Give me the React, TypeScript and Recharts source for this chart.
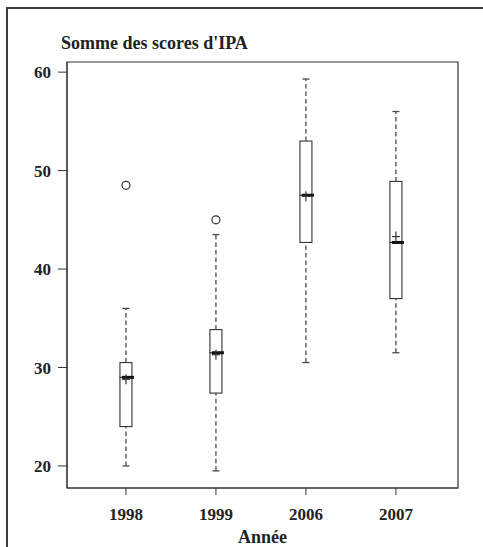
import { Bar, ComposedChart, ReferenceArea, Scatter, XAxis, YAxis } from "recharts";

const years = ["1998", "1999", "2006", "2007"];
const whiskerLow = [20, 19.5, 30.5, 31.5];
const q1 = [24, 27.4, 42.7, 37.0];
const medians = [29, 31.5, 47.5, 42.7];
const q3 = [30.5, 33.85, 53.0, 48.9];
const whiskerHigh = [36, 43.5, 59.3, 56.0];
const means = [28.8, 31.3, 47.4, 43.3];
const outlierPos = [1, 2];
const outlierValues = [48.5, 45.0];
const yTicks = [20, 30, 40, 50, 60];

const boxData = years.map((year, i) => ({
  pos: i + 1,
  year,
  base: whiskerLow[i],
  lowW: q1[i] - whiskerLow[i],
  lowBox: medians[i] - q1[i],
  highBox: q3[i] - medians[i],
  highW: whiskerHigh[i] - q3[i],
}));
const meanData = years.map((_, i) => ({ pos: i + 1, mean: means[i] }));
const outlierData = outlierPos.map((p, i) => ({ pos: p, value: outlierValues[i] }));

const font = "'Liberation Serif', 'Times New Roman', serif";
const ink = "#333";
const whisk = "#4a4a4a";

const Empty = () => <g />;

const LowWhisker = (p: any) => {
  const cx = p.x + p.width / 2;
  const bottom = p.y + p.height;
  return (
    <g>
      <line x1={cx} x2={cx} y1={bottom} y2={p.y} stroke={whisk} strokeWidth={1.3} strokeDasharray="4.5 3" />
      <line x1={cx - 3.5} x2={cx + 3.5} y1={bottom} y2={bottom} stroke={whisk} strokeWidth={1.3} />
    </g>
  );
};

const HighWhisker = (p: any) => {
  const cx = p.x + p.width / 2;
  return (
    <g>
      <line x1={cx} x2={cx} y1={p.y + p.height} y2={p.y} stroke={whisk} strokeWidth={1.3} strokeDasharray="4.5 3" />
      <line x1={cx - 3.5} x2={cx + 3.5} y1={p.y} y2={p.y} stroke={whisk} strokeWidth={1.3} />
    </g>
  );
};

const LowBox = (p: any) => (
  <g>
    <rect x={p.x} y={p.y} width={p.width} height={p.height} fill="#fff" stroke={ink} strokeWidth={1.1} />
  </g>
);

const HighBox = (p: any) => (
  <g>
    <rect x={p.x} y={p.y} width={p.width} height={p.height} fill="#fff" stroke={ink} strokeWidth={1.1} />
    <line x1={p.x + 2} x2={p.x + p.width + 2} y1={p.y + p.height} y2={p.y + p.height} stroke="#111" strokeWidth={3} />
  </g>
);

const MeanMark = (p: any) => (
  <g>
    <line x1={p.cx - 4} x2={p.cx + 4} y1={p.cy} y2={p.cy} stroke={ink} strokeWidth={1.2} />
    <line x1={p.cx} x2={p.cx} y1={p.cy - 5} y2={p.cy + 5} stroke={ink} strokeWidth={1.2} />
  </g>
);

const OutlierMark = (p: any) => (
  <circle cx={p.cx} cy={p.cy} r={4} fill="none" stroke={ink} strokeWidth={1.2} />
);

export default function App() {
  const tickStyle = { fill: "#222", fontSize: 17, fontWeight: 700, fontFamily: font };
  return (
    <div style={{ position: "absolute", left: 0, top: 0, width: 483, height: 547, background: "#fff" }}>
      <div
        style={{
          position: "absolute",
          left: 6,
          top: 7,
          width: 477,
          height: 540,
          borderLeft: "2px solid #3a3a3a",
          borderTop: "2px solid #3a3a3a",
        }}
      />
      <div
        style={{
          position: "absolute",
          left: 61,
          top: 34,
          fontFamily: font,
          fontWeight: 700,
          fontSize: 18,
          lineHeight: "18px",
          color: "#222",
          whiteSpace: "nowrap",
        }}
      >
        Somme des scores d'IPA
      </div>
      <div style={{ position: "absolute", left: 0, top: 0 }}>
        <ComposedChart width={483} height={547} data={boxData} margin={{ top: 62, right: 25, bottom: 0, left: 0 }}>
          <XAxis
            type="number"
            dataKey="pos"
            domain={[0.345, 4.69]}
            allowDataOverflow
            ticks={[1, 2, 3, 4]}
            tickFormatter={(v) => years[v - 1]}
            height={59}
            tickSize={7}
            tickMargin={13}
            tick={tickStyle}
            stroke={ink}
            label={{ value: "Année", position: "insideBottom", offset: 4, style: { ...tickStyle, fontSize: 18 } }}
          />
          <YAxis
            type="number"
            domain={[17.76, 61.03]}
            allowDataOverflow
            ticks={yTicks}
            width={67}
            tickSize={9}
            tickMargin={7}
            tick={tickStyle}
            stroke={ink}
          />
          <ReferenceArea x1={0.345} x2={4.69} y1={17.76} y2={61.03} fill="none" stroke={ink} strokeWidth={1.2} />
          <Bar dataKey="base" stackId="b" barSize={12} isAnimationActive={false} shape={Empty} />
          <Bar dataKey="lowW" stackId="b" barSize={12} isAnimationActive={false} shape={LowWhisker} />
          <Bar dataKey="lowBox" stackId="b" barSize={12} isAnimationActive={false} shape={LowBox} />
          <Bar dataKey="highBox" stackId="b" barSize={12} isAnimationActive={false} shape={HighBox} />
          <Bar dataKey="highW" stackId="b" barSize={12} isAnimationActive={false} shape={HighWhisker} />
          <Scatter data={meanData} dataKey="mean" isAnimationActive={false} shape={MeanMark} />
          <Scatter data={outlierData} dataKey="value" isAnimationActive={false} shape={OutlierMark} />
        </ComposedChart>
      </div>
    </div>
  );
}
